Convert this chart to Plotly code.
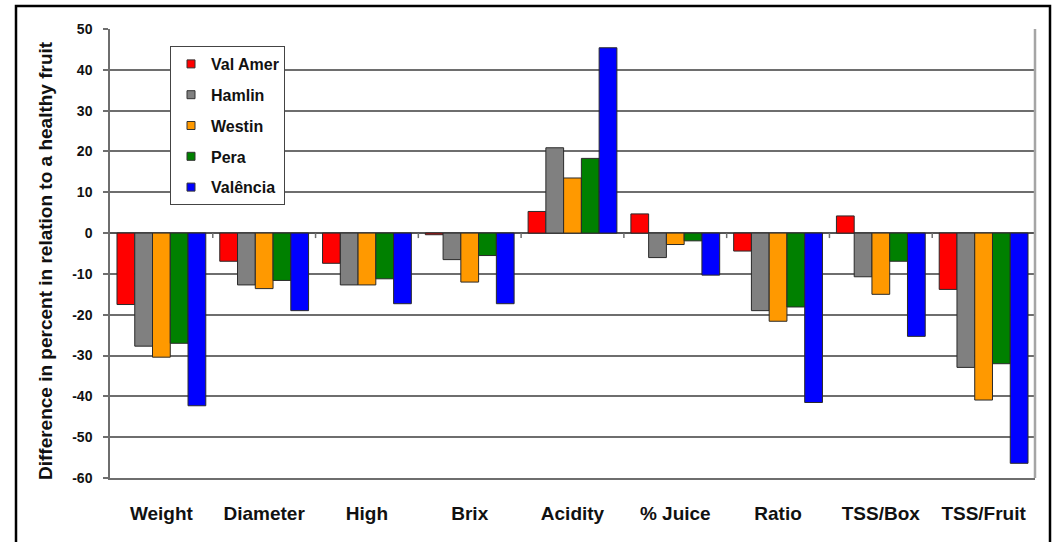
import plotly.graph_objects as go

# Fruit attributes (x categories)
categories = ["Weight", "Diameter", "High", "Brix", "Acidity", "% Juice", "Ratio", "TSS/Box", "TSS/Fruit"]

# Difference (%) relative to a healthy fruit, per variety
val_amer = [-17.5, -6.9, -7.4, -0.4, 5.3, 4.7, -4.4, 4.2, -13.8]
hamlin = [-27.7, -12.7, -12.7, -6.5, 20.9, -6.0, -19.0, -10.7, -32.9]
westin = [-30.4, -13.6, -12.7, -12.0, 13.5, -2.8, -21.6, -15.0, -40.9]
pera = [-27.0, -11.6, -11.2, -5.5, 18.3, -1.9, -18.1, -6.9, -32.0]
valencia = [-42.3, -19.0, -17.3, -17.3, 45.4, -10.3, -41.5, -25.3, -56.4]

series_names = ["Val Amer", "Hamlin", "Westin", "Pera", "Valência"]
series_values = [val_amer, hamlin, westin, pera, valencia]
series_colors = ["#ff0000", "#808080", "#ff9900", "#008000", "#0000ff"]

y_ticks = list(range(-60, 51, 10))
y_tick_labels = [str(v) for v in y_ticks]  # plain hyphen minus

W, H = 1052, 542
ML, MR, MT, MB = 110, 17, 29, 64
plot_w = W - ML - MR
plot_h = H - MT - MB

FONT = "Liberation Sans, Arial, sans-serif"
TXT = "#111111"
GRID = "#6e6e6e"

fig = go.Figure()

for name, vals, col in zip(series_names, series_values, series_colors):
    fig.add_trace(go.Bar(
        x=categories, y=vals, name=name,
        marker=dict(color=col, line=dict(color="#2a2a2a", width=1)),
        showlegend=False,
    ))

# small square swatches for the legend
for i, (name, col) in enumerate(zip(series_names, series_colors)):
    fig.add_trace(go.Scatter(
        x=[None], y=[None], mode="markers", name=name, legendgroup=f"g{i}",
        marker=dict(symbol="square", size=8, color=col, line=dict(color="#333333", width=1)),
    ))


def px_x(px):
    return (px - ML) / plot_w


def px_y(py):
    return (H - MB - py) / plot_h


shapes = []
# category separator ticks on the zero line
for k in range(1, len(categories)):
    shapes.append(dict(type="line", xref="x", yref="y", ysizemode="pixel", yanchor=0,
                       x0=k - 0.5, x1=k - 0.5, y0=0, y1=-5,
                       line=dict(color=GRID, width=1.5)))
# right edge of the plot area
shapes.append(dict(type="line", xref="paper", yref="paper", x0=1, x1=1, y0=0, y1=1,
                   line=dict(color="#a5a5a5", width=2.5)))
# outer frame
shapes.append(dict(type="rect", xref="paper", yref="paper",
                   x0=px_x(16), x1=px_x(1050), y0=px_y(560), y1=px_y(6),
                   line=dict(color="#000000", width=2.5), fillcolor="rgba(0,0,0,0)", layer="below"))

fig.update_layout(
    width=W, height=H,
    margin=dict(l=ML, r=MR, t=MT, b=MB, autoexpand=False),
    paper_bgcolor="white", plot_bgcolor="white",
    barmode="group", bargap=0.136, bargroupgap=0,
    font=dict(family=FONT, color=TXT),
    showlegend=True,
    legend=dict(
        x=px_x(170), y=px_y(46), xanchor="left", yanchor="top",
        bgcolor="white", bordercolor="#444444", borderwidth=1,
        font=dict(size=16, family=FONT, color=TXT, weight="bold"),
        tracegroupgap=7, itemwidth=30,
    ),
    xaxis=dict(
        type="category", range=[-0.5, len(categories) - 0.5],
        showgrid=False, zeroline=False,
        showline=True, linecolor=GRID, linewidth=1.5,
        ticks="", ticklabelstandoff=17,
        tickfont=dict(size=19, family=FONT, color=TXT, weight="bold"),
        fixedrange=True,
    ),
    yaxis=dict(
        range=[-60, 50], tickvals=y_ticks, ticktext=y_tick_labels,
        showgrid=True, gridcolor=GRID, gridwidth=1.5,
        zeroline=True, zerolinecolor="#555555", zerolinewidth=1.5,
        showline=True, linecolor=GRID, linewidth=1.5,
        ticks="outside", ticklen=5, tickcolor=GRID, tickwidth=1.5,
        ticklabelstandoff=8,
        tickfont=dict(size=14, family=FONT, color=TXT, weight="bold"),
        fixedrange=True,
    ),
    shapes=shapes,
    annotations=[dict(
        text="Difference in percent in relation to a healthy fruit",
        xref="paper", yref="paper", x=px_x(45), y=px_y(261),
        xanchor="center", yanchor="middle", textangle=-90, showarrow=False,
        font=dict(size=19, family=FONT, color=TXT, weight="bold"),
    )],
)

fig.write_html("out.html")
